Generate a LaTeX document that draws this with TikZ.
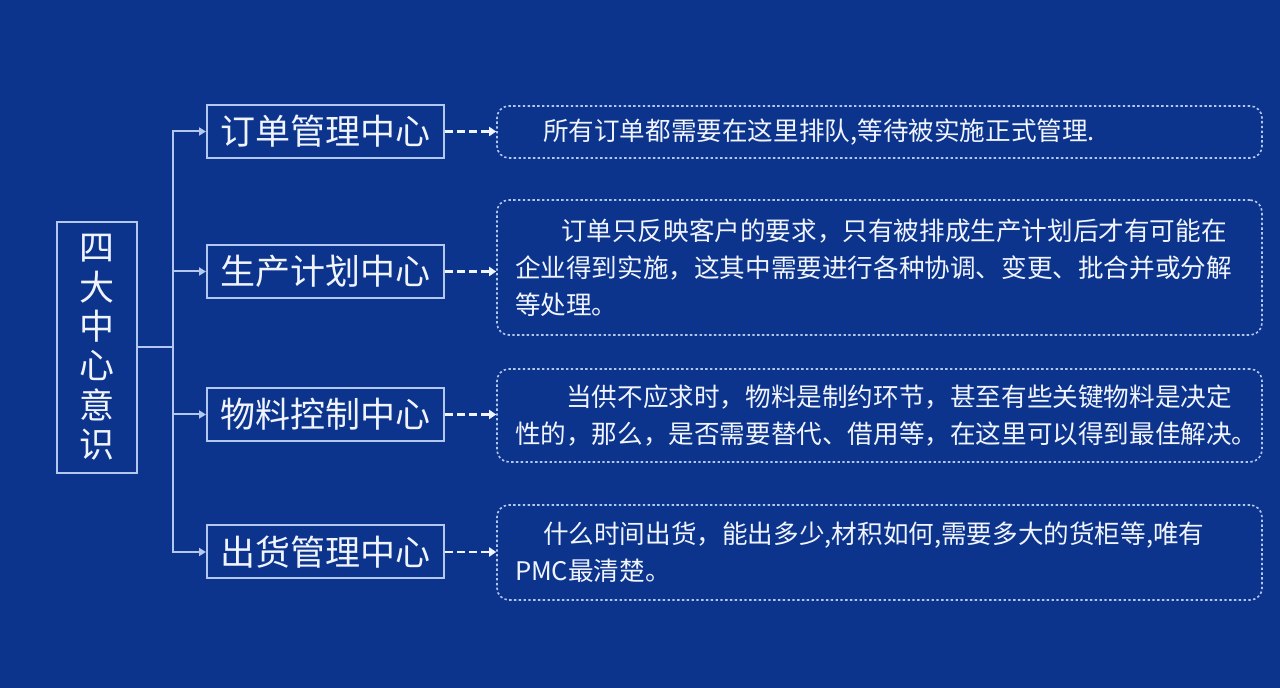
\documentclass[tikz,border=0pt]{standalone}
\usepackage{fontspec}
\setmainfont{Noto Sans CJK SC}
\usetikzlibrary{arrows.meta,positioning}
\definecolor{bgblue}{RGB}{12,52,140}
\definecolor{lineblue}{RGB}{178,200,238}
\definecolor{txtwhite}{RGB}{240,244,255}

\begin{document}
\begin{tikzpicture}[x=0.5pt,y=-0.5pt,
  corebox/.style={draw=lineblue,line width=1pt,text=txtwhite,minimum width=40pt,minimum height=125.5pt,align=center,inner sep=0pt,font=\fontsize{17.5}{19.7}\selectfont},
  centerbox/.style={draw=lineblue,line width=1pt,text=txtwhite,minimum width=118.5pt,minimum height=26.5pt,inner sep=0pt,font=\fontsize{17.5}{20}\selectfont},
  notebox/.style={draw=lineblue,line width=0.8pt,dash pattern=on 1.2pt off 1.2pt,rounded corners=6pt,text=txtwhite,text width=364.5pt,inner xsep=9pt,inner ysep=0pt,align=left,font=\fontsize{12.8}{18.5}\selectfont},
  tree/.style={draw=lineblue,line width=1pt},
  tip/.style={-{Triangle[length=3.5pt,width=4pt]}},
  link/.style={draw=txtwhite,line width=1.4pt,dash pattern=on 4pt off 2pt,-{Triangle[length=3.5pt,width=4.5pt]}}]
\fill[bgblue] (0,0) rectangle (1280,688);
\node[corebox] (core) at (97,347.5) {四\\大\\中\\心\\意\\识};
\node[centerbox] (c1) at (325.5,131.5) {订单管理中心};
\node[centerbox] (c2) at (325.5,271.5) {生产计划中心};
\node[centerbox] (c3) at (325.5,414.5) {物料控制中心};
\node[centerbox] (c4) at (325.5,552) {出货管理中心};
\node[notebox,minimum height=26pt] (d1) at (879.5,132) {\hspace*{1.1em}所有订单都需要在这里排队,等待被实施正式管理.};
\node[notebox,minimum height=67.5pt] (d2) at (879.5,267.5) {\hspace*{1.8em}订单只反映客户的要求，只有被排成生产计划后才有可能在\\企业得到实施，这其中需要进行各种协调、变更、批合并或分解\\等处理。};
\node[notebox,minimum height=46.5pt] (d3) at (879.5,415.5) {\hspace*{2em}当供不应求时，物料是制约环节，甚至有些关键物料是决定\\性的，那么，是否需要替代、借用等，在这里可以得到最佳解决。};
\node[notebox,minimum height=47.5pt] (d4) at (879.5,552.5) {\hspace*{1.1em}什么时间出货，能出多少,材积如何,需要多大的货柜等,唯有\\PMC最清楚。};
\coordinate (hub) at (173,347.5);
\draw[tree] (core.east) -- (hub);
\draw[tree,tip] (hub) |- (c1);
\draw[tree,tip] (hub) |- (c2);
\draw[tree,tip] (hub) |- (c3);
\draw[tree,tip] (hub) |- (c4);
\draw[link] (c1.east) -- (c1.east -| d1.west);
\draw[link] (c2.east) -- (c2.east -| d2.west);
\draw[link] (c3.east) -- (c3.east -| d3.west);
\draw[link] (c4.east) -- (c4.east -| d4.west);
\end{tikzpicture}
\end{document}
